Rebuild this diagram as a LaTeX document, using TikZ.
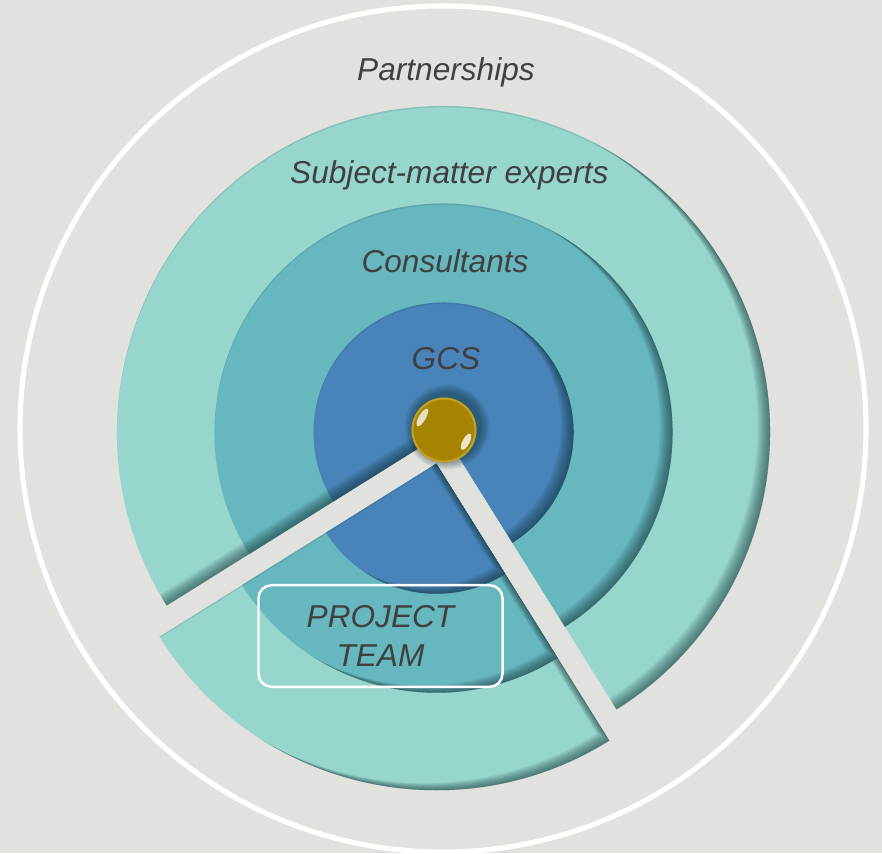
\documentclass[tikz,border=0pt]{standalone}
\usepackage{fontspec}
\setmainfont{Liberation Sans}
\usetikzlibrary{calc}
\definecolor{bggrey}{HTML}{E1E1DE}
\definecolor{ltteal}{HTML}{97D6CD}
\definecolor{consteal}{HTML}{67B7BE}
\definecolor{gcsblue}{HTML}{4884B9}
\definecolor{txtgrey}{HTML}{404040}
\definecolor{shadowc}{HTML}{0E2A2E}
\definecolor{gold}{HTML}{A68400}
\definecolor{goldrim}{HTML}{CDAE3C}
\newcommand\mainpiece[1]{(443.5,420.5) -- ++(-58:#1) arc[start angle=-58, end angle=212, radius=#1] -- cycle}
\newcommand\subpiece[1]{(436.3,389.3) -- ++(212:#1) arc[start angle=212, end angle=302, radius=#1] -- cycle}
\newcommand\ishadow[1]{%
  \begin{scope}
    \clip #1;
    \foreach \k in {1,...,9} {%
      \begin{scope}[shift={(-1.4*\k,0.8*\k)}]
        \fill[shadowc, fill opacity=0.075, even odd rule] (-60,-60) rectangle (960,960) #1;
      \end{scope}}
    \begin{scope}[shift={(0,-1.5)}]
      \fill[shadowc, fill opacity=0.12, even odd rule] (-60,-60) rectangle (960,960) #1;
    \end{scope}
  \end{scope}}
\tikzset{
  lbl/.style={font=\fontsize{18pt}{21.8pt}\selectfont\itshape, text=txtgrey, anchor=base, inner sep=0pt},
  teambox/.style={draw=white, line width=1.4pt, rounded corners=7.4pt, minimum width=138.9pt,
    minimum height=57.8pt, inner sep=0pt, align=center,
    font=\fontsize{18pt}{21.8pt}\selectfont\itshape, text=txtgrey}
}
\begin{document}
\begin{tikzpicture}[x=0.02cm, y=0.02cm]
  % background
  \fill[bggrey] (0,0) rectangle (882,853);
  \useasboundingbox (0,0) rectangle (882,853);
  % outer white ring
  \draw[white, line width=2.9pt] (443,424) circle[radius=423];
  % subject-matter experts
  \fill[ltteal] \mainpiece{326.5};
  \ishadow{\mainpiece{326.5}}
  \fill[ltteal] \subpiece{326.5};
  \ishadow{\subpiece{326.5}}
  % consultants
  \fill[consteal] \mainpiece{229};
  \ishadow{\mainpiece{229}}
  \fill[consteal] \subpiece{229};
  \ishadow{\subpiece{229}}
  % GCS
  \fill[gcsblue] \mainpiece{130};
  \ishadow{\mainpiece{130}}
  \fill[gcsblue] \subpiece{130};
  \ishadow{\subpiece{130}}
  % ball shadow
  \foreach \k in {1,...,7} {\fill[shadowc, fill opacity=0.08] (447,426) circle[radius=32.5+\k*1.4];}
  % ball
  \fill[gold] (444,423) circle[radius=32.5];
  \draw[goldrim, line width=1.1pt, draw opacity=0.7] (444,423) circle[radius=31.5];
  \begin{scope}[shift={(422.35,435.5)}, rotate=60]
    \fill[white, fill opacity=0.75] (0,0) ellipse[x radius=10, y radius=3.5];
  \end{scope}
  \begin{scope}[shift={(466.07,411.26)}, rotate=62]
    \fill[white, fill opacity=0.8] (0,0) ellipse[x radius=9, y radius=3.5];
  \end{scope}
  % labels
  \node[lbl] (partners) at (446,772) {Partnerships};
  \node[lbl] (sme) at (449.3,669) {Subject-matter experts};
  \node[lbl] (cons) at (445,580) {Consultants};
  \node[lbl] (gcs) at (446,483) {GCS};
  \node[teambox] (team) at (380.5,217) {PROJECT\\TEAM};
\end{tikzpicture}
\end{document}
